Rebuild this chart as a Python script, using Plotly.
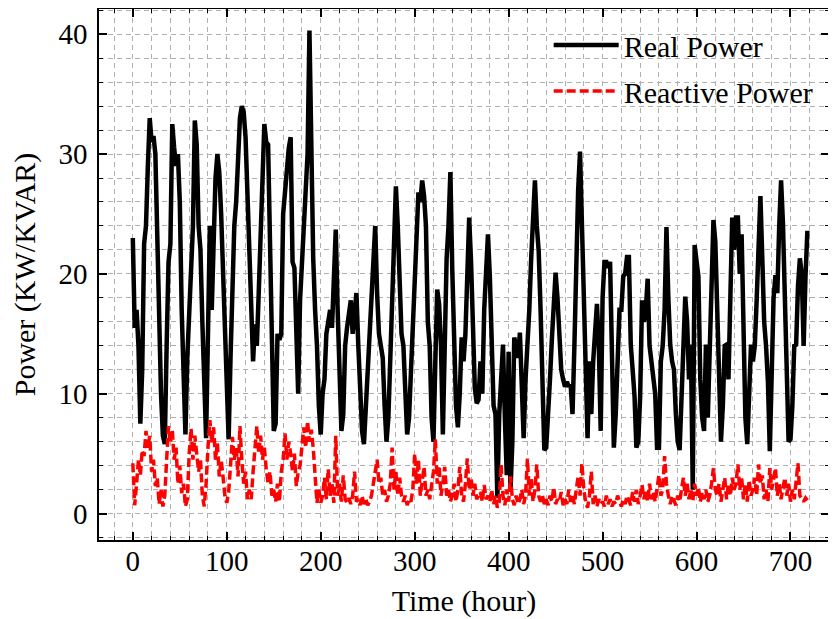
import plotly.graph_objects as go

# Sampling time in hours (one reading every 2 h over 30 days)
hours = list(range(0, 720, 2))

# Real power (KW), 12 samples per day
real_power = [
    23, 15.5, 17, 14, 7.5, 12, 22.5, 24, 29, 33, 31, 31.5,
    30, 22.5, 18, 10, 6.5, 5.8, 14, 21, 22.5, 32.5, 30.5, 29,
    30, 26, 17, 10, 6.6, 13, 17, 21, 24, 32.8, 30.8, 24,
    22, 16, 10, 6.3, 15, 24, 17, 23.3, 28, 30, 28.5, 25,
    19.8, 15, 10, 6.2, 13, 19.8, 24, 26, 30, 33, 34, 33.5,
    31.4, 27, 22.7, 16.4, 12.7, 15.8, 14, 18.4, 24, 30, 32.5, 31,
    30.8, 22.7, 15, 6.9, 7.5, 15, 14.5, 15, 25, 27, 28.5, 30.5,
    31.4, 21, 20.5, 14, 10, 17.8, 21, 23, 26, 30, 40.3, 28.5,
    21.3, 17, 14, 9, 6.6, 10, 11.2, 15, 16.4, 17, 15.5, 19,
    23.7, 17, 12, 6.9, 8.3, 14, 15.5, 16.5, 17.8, 15, 17, 18.4,
    14, 9, 6.9, 5.8, 9, 11.2, 15, 18, 19.9, 24, 18.4, 15,
    14, 13, 9, 6, 8, 12.7, 18, 24, 27.3, 24, 18.4, 15,
    14, 10, 6.6, 8, 12, 14, 20, 24, 26.8, 26, 27.8, 26.5,
    24, 16, 14, 8, 6, 12.7, 18.7, 17.5, 14, 6.6, 14, 21.3,
    24, 28.5, 20.4, 12.7, 9, 7.2, 10, 14.7, 12.7, 15, 20, 24.7,
    21, 15, 10.5, 9.2, 9.5, 12.7, 10, 17, 21, 23.3, 19.8, 12.7,
    9, 8.3, 1.3, 8.3, 11, 14.1, 8, 3.2, 13.5, 2, 6, 14.7,
    14, 13, 15.1, 9.2, 6.3, 11.2, 14, 17, 21.3, 24, 27.8, 24,
    21.9, 17, 12, 5.3, 5.5, 8, 11.2, 14.5, 17, 20.1, 18, 14.1,
    12, 11.2, 10.6, 11, 10.6, 10.8, 8.3, 14, 22.7, 27, 30.2, 24.2,
    20, 14, 6.3, 12.7, 8.3, 12.7, 15, 17.5, 14, 6.9, 18, 21,
    21, 20.5, 21, 12.7, 5.5, 8.3, 12, 17, 17, 19.8, 20, 21.4,
    21.4, 14.1, 12, 9.8, 5.5, 6, 9.8, 17.8, 16, 17, 19.6, 14,
    12.7, 11, 10, 5.5, 5.5, 12.7, 14, 17, 23.9, 18, 14.1, 12.7,
    12, 8.3, 6, 5.3, 10, 14.1, 18.1, 16, 11.2, 14.1, 2, 22.4,
    21, 19.8, 11.2, 8, 6.9, 14.1, 8, 14.1, 20, 24.5, 22.7, 17,
    10, 6, 9, 14, 14.1, 11.2, 18, 24.7, 22, 24.7, 24.7, 20,
    23.3, 14, 8, 5.8, 9, 14.1, 12.7, 14, 17.8, 22, 26.5, 21.3,
    16, 14, 11, 5.2, 13, 18, 19.9, 18.4, 24, 27.8, 24.2, 18.4,
    12.7, 6, 6.2, 9, 14, 14.1, 19, 21.3, 20, 14, 19.8, 23.6,
]

# Reactive power (KVAR)
reactive_power = [
    4.2, 0.7, 2.5, 4.5, 3.2, 5.3, 4.8, 6.9, 5.5, 6.5, 3.5, 4.5,
    2.3, 3.0, 0.8, 2.0, 0.6, 1.5, 4.5, 7.3, 5.9, 7.0, 4.5, 5.5,
    2.5, 4.0, 1.7, 2.5, 0.6, 1.2, 5.0, 7.1, 4.5, 6.5, 5.0, 3.5,
    4.5, 1.5, 0.6, 2.5, 5.5, 7.8, 5.9, 7.2, 4.5, 5.9, 3.1, 4.5,
    3.1, 1.5, 0.9, 1.8, 4.0, 6.4, 4.5, 5.5, 3.1, 7.3, 4.5, 2.5,
    3.5, 1.2, 2.0, 1.2, 3.5, 5.5, 7.3, 5.0, 6.5, 4.5, 5.5, 3.7,
    2.5, 3.5, 1.5, 2.0, 1.0, 2.5, 1.0, 3.5, 4.5, 6.7, 4.5, 6.0,
    5.0, 3.5, 5.0, 2.3, 3.5, 4.0, 6.0, 7.2, 5.5, 7.7, 6.0, 7.0,
    5.5, 3.0, 0.9, 2.0, 0.9, 1.5, 3.0, 1.2, 3.7, 1.5, 2.5, 0.9,
    6.5, 1.5, 2.5, 1.0, 3.2, 1.2, 0.9, 1.3, 0.8, 1.5, 3.5, 1.0,
    1.2, 0.7, 1.5, 0.8, 1.2, 0.7, 1.0, 1.5, 2.5, 3.5, 4.5, 2.5,
    3.0, 1.5, 2.0, 1.0, 1.5, 2.5, 5.5, 2.0, 3.5, 1.5, 3.0, 1.5,
    1.0, 1.5, 0.7, 1.2, 1.0, 2.0, 5.0, 2.5, 4.5, 1.5, 2.5, 3.9,
    1.5, 2.0, 1.2, 2.5, 3.5, 6.2, 2.5, 4.0, 1.5, 2.5, 3.9, 1.5,
    2.0, 1.0, 1.5, 2.5, 1.0, 2.0, 3.9, 1.5, 1.0, 2.5, 4.6, 2.0,
    3.0, 1.5, 2.5, 1.2, 1.5, 1.8, 1.0, 2.4, 1.2, 1.5, 1.0, 2.0,
    0.8, 1.5, 0.5, 1.0, 4.1, 1.5, 0.7, 2.0, 1.0, 3.1, 1.2, 0.7,
    1.5, 0.8, 1.2, 2.0, 0.8, 1.5, 4.6, 1.5, 3.0, 1.0, 2.0, 4.1,
    1.5, 1.0, 1.5, 0.8, 1.2, 0.7, 1.5, 1.0, 2.2, 0.8, 1.2, 1.0,
    1.8, 0.7, 1.2, 0.8, 2.0, 1.0, 1.5, 0.8, 2.0, 3.1, 1.5, 4.2,
    2.0, 1.0, 0.5, 1.5, 3.5, 0.8, 1.5, 0.6, 1.2, 0.8, 1.0, 0.6,
    1.5, 0.8, 1.2, 0.6, 1.0, 0.8, 1.5, 1.0, 0.6, 1.2, 0.8, 1.5,
    1.0, 0.7, 1.8, 1.0, 2.0, 0.8, 1.5, 2.4, 1.2, 2.0, 1.0, 2.5,
    1.2, 1.8, 1.0, 2.0, 3.2, 1.5, 2.0, 4.8, 2.5, 1.5, 0.8, 1.5,
    1.0, 0.7, 1.5, 1.0, 2.0, 3.0, 1.5, 2.5, 1.2, 2.0, 1.0, 2.5,
    1.5, 2.2, 1.0, 1.8, 1.2, 2.0, 1.0, 1.5, 2.5, 3.8, 2.0, 1.5,
    2.5, 1.0, 2.0, 3.0, 1.2, 2.5, 1.5, 3.0, 2.0, 2.5, 4.1, 2.0,
    3.0, 1.2, 2.5, 1.0, 2.8, 1.5, 2.0, 3.0, 1.5, 4.1, 2.5, 3.2,
    1.2, 2.0, 1.0, 3.8, 2.0, 3.0, 3.8, 1.5, 2.5, 1.2, 2.0, 3.0,
    1.5, 2.5, 1.0, 2.0, 1.2, 2.5, 4.2, 1.5, 1.2, 1.0, 1.3, 1.1,
]

FONT = "Liberation Serif, Times New Roman, serif"
GRID = "#b0b0b0"

fig = go.Figure()

fig.add_trace(
    go.Scatter(
        x=hours,
        y=real_power,
        mode="lines",
        name="Real Power",
        legendgroup="real",
        line=dict(color="black", width=4.5),
    )
)

fig.add_trace(
    go.Scatter(
        x=hours,
        y=reactive_power,
        mode="lines",
        name="Reactive Power",
        legendgroup="reactive",
        line=dict(color="red", width=3.5, dash="9px,4px"),
    )
)

axis_style = dict(
    showline=True,
    linecolor="black",
    linewidth=1.5,
    mirror="allticks",
    ticks="inside",
    ticklen=8,
    tickwidth=1.5,
    tickcolor="black",
    showgrid=True,
    gridcolor=GRID,
    gridwidth=1,
    griddash="5px,4px",
    zeroline=False,
    automargin=False,
    tickfont=dict(family=FONT, size=29, color="black"),
    minor=dict(
        ticks="inside",
        ticklen=4,
        tickwidth=1,
        tickcolor="black",
        showgrid=True,
        gridcolor=GRID,
        gridwidth=1,
        griddash="5px,4px",
    ),
)

# the page body adds an 8px offset, so margins are shifted by that
fig.update_layout(
    width=836,
    height=619,
    margin=dict(l=91, r=15, t=1, b=87),
    paper_bgcolor="white",
    plot_bgcolor="white",
    font=dict(family=FONT, size=29, color="black"),
    xaxis=dict(
        axis_style,
        range=[-36, 741],
        tick0=0,
        dtick=100,
        ticklabelstandoff=-6,
        title=dict(text="Time (hour)", font=dict(family=FONT, size=30), standoff=14),
    ),
    yaxis=dict(
        axis_style,
        range=[-2.2, 42.1],
        tick0=0,
        dtick=10,
        ticklabelstandoff=4,
        title=dict(text="Power (KW/KVAR)", font=dict(family=FONT, size=30), standoff=16),
    ),
    legend=dict(
        x=0.616,
        y=0.981,
        xanchor="left",
        yanchor="top",
        bgcolor="rgba(0,0,0,0)",
        font=dict(family=FONT, size=30),
        itemwidth=65,
        tracegroupgap=4,
    ),
    showlegend=True,
)
fig.update_xaxes(minor=dict(dtick=20))
fig.update_yaxes(minor=dict(dtick=2))

fig.write_html("out.html")
